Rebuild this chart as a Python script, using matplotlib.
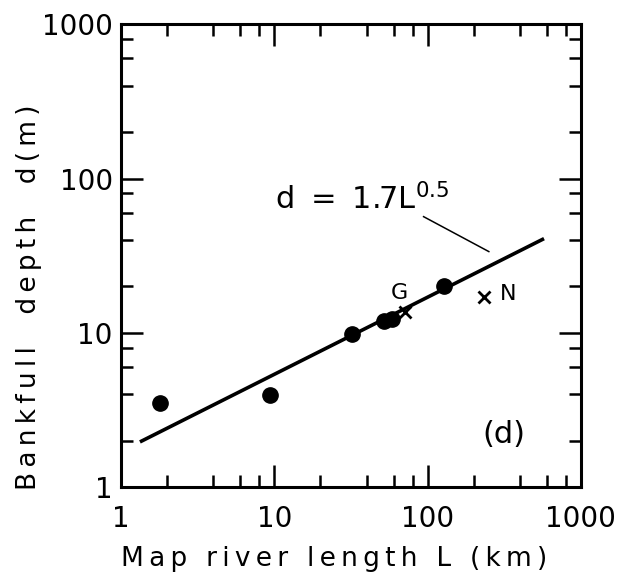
import matplotlib
matplotlib.use('Agg')
import matplotlib.pyplot as plt
from matplotlib.ticker import LogLocator, NullFormatter

# rivers (filled dots)
length_dots = [1.8, 9.4, 32, 52, 59, 128]
depth_dots = [3.5, 3.95, 9.8, 12.0, 12.2, 20.0]

# the two labelled rivers (crosses)
cross_names = ['G', 'N']
length_cross = [70.8, 232]
depth_cross = [13.7, 17.1]

# fitted line d = 1.7 L^0.5
fit_coef = 1.7
fit_exp = 0.5
fit_range = [1.33, 575]

ticks = [1, 10, 100, 1000]
tick_labels = ['1', '10', '100', '1000']


def tracked(s, gap='\u2009'):
    # wide letter spacing like the original lettering
    return gap.join(s)


plt.rcParams['font.family'] = ['DejaVu Sans']

fig = plt.figure(figsize=(6.3, 5.85), dpi=100)
ax = fig.add_axes([0.192, 0.1675, 0.730, 0.791])
ax.set_xscale('log')
ax.set_yscale('log')
ax.set_xlim(1, 1000)
ax.set_ylim(1, 1000)

# fit line
fit_d = [fit_coef * L ** fit_exp for L in fit_range]
ax.plot(fit_range, fit_d, color='black', lw=2.6, solid_capstyle='butt')

ax.plot(length_dots, depth_dots, 'o', color='black', ms=11)
ax.plot(length_cross, depth_cross, 'x', color='black', ms=8, mew=2)

# labels for crosses
ax.text(65.6, 18.2, cross_names[0], fontsize=16, ha='center', va='center')
ax.text(336, 17.9, cross_names[1], fontsize=16, ha='center', va='center')

# equation with leader line
ax.text(10.1, 63, r'$\mathregular{d\ =\ 1.7L^{0.5}}$', fontsize=22,
        ha='left', va='baseline')
ax.plot([94.2, 251], [56.6, 33.6], color='black', lw=1.1)

ax.text(0.833, 0.114, '(d)', transform=ax.transAxes, fontsize=22,
        ha='center', va='center')

# ticks
ax.set_xticks(ticks, tick_labels)
ax.set_yticks(ticks, tick_labels)
for axis in (ax.xaxis, ax.yaxis):
    axis.set_minor_locator(LogLocator(base=10, subs=[2, 4, 6, 8]))
    axis.set_minor_formatter(NullFormatter())
ax.tick_params(which='both', direction='in', top=True, right=True,
               color='black', labelsize=20)
ax.tick_params(which='major', length=16, width=1.8)
ax.tick_params(which='minor', length=8.5, width=1.8)
ax.tick_params(axis='x', pad=13)
ax.tick_params(axis='y', pad=6)
for sp in ax.spines.values():
    sp.set_linewidth(2.2)

ax.set_xlabel(tracked('Map river length L (km)'), fontsize=19)
ax.set_ylabel(tracked('Bankfull  depth  d(m)'), fontsize=19)
ax.xaxis.set_label_coords(0.463, -0.128)
ax.yaxis.set_label_coords(-0.172, 0.41)

fig.savefig('out.png', dpi=100)
